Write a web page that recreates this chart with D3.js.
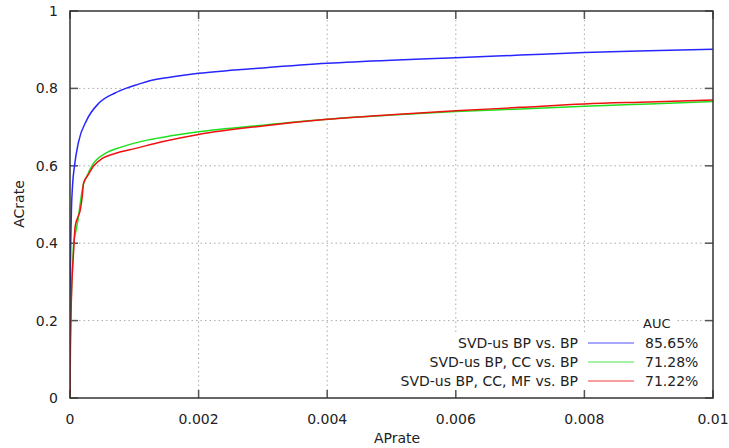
<!DOCTYPE html>
<html>
<head>
<meta charset="utf-8">
<script src="https://cdn.jsdelivr.net/npm/d3@7"></script>
<style>
  body { margin: 0; background: #fff; }
  text { font-family: "DejaVu Sans", sans-serif; fill: #222; }
</style>
</head>
<body>
<div id="chart"></div>
<script>
//=========Data=========//
var seriesNames = ["SVD-us BP vs. BP", "SVD-us BP, CC vs. BP", "SVD-us BP, CC, MF vs. BP"];
var aucLabels = ["85.65%", "71.28%", "71.22%"];
var seriesColors = ["#2626ff", "#1fe01f", "#f01010"];

var blueX = [0, 0.000005, 0.00002, 0.00004, 0.00007, 0.00013, 0.00026, 0.00045, 0.0007, 0.00087, 0.00107, 0.00124, 0.0016, 0.002, 0.003, 0.004, 0.005, 0.006, 0.007, 0.008, 0.009, 0.01];
var blueY = [0, 0.3, 0.47, 0.55, 0.6, 0.66, 0.718, 0.762, 0.788, 0.8, 0.811, 0.82, 0.83, 0.839, 0.853, 0.865, 0.873, 0.879, 0.886, 0.893, 0.897, 0.901];

var greenX = [0, 0.000005, 0.00002, 0.00004, 0.000057, 0.00009, 0.000124, 0.00016, 0.0002, 0.00026, 0.00034, 0.00055, 0.00081, 0.00122, 0.0016, 0.002, 0.003, 0.004, 0.005, 0.006, 0.007, 0.008, 0.009, 0.01];
var greenY = [0, 0.15, 0.26, 0.34, 0.4, 0.43, 0.46, 0.504, 0.546, 0.572, 0.6, 0.632, 0.649, 0.667, 0.678, 0.688, 0.705, 0.72, 0.731, 0.74, 0.747, 0.754, 0.76, 0.766];

var redX = [0, 0.000005, 0.00002, 0.000055, 0.00008, 0.000124, 0.00016, 0.00019, 0.00021, 0.00028, 0.00037, 0.0005, 0.0007, 0.00102, 0.00143, 0.002, 0.003, 0.004, 0.005, 0.006, 0.007, 0.008, 0.009, 0.01];
var redY = [0, 0.1, 0.245, 0.375, 0.443, 0.468, 0.486, 0.52, 0.555, 0.576, 0.6, 0.619, 0.632, 0.645, 0.662, 0.681, 0.703, 0.72, 0.732, 0.742, 0.751, 0.76, 0.765, 0.77];

var xTicks = [0, 0.002, 0.004, 0.006, 0.008, 0.01];
var xTickLabels = ["0", "0.002", "0.004", "0.006", "0.008", "0.01"];
var yTicks = [0, 0.2, 0.4, 0.6, 0.8, 1];
var yTickLabels = ["0", "0.2", "0.4", "0.6", "0.8", "1"];

//=========SVG area=========//
var svgWidth = 729;
var svgHeight = 448;
var margin = { top: 11, right: 16, bottom: 50, left: 70 };
var width = svgWidth - margin.left - margin.right;
var height = svgHeight - margin.top - margin.bottom;

var svg = d3.select("#chart").append("svg")
  .attr("width", svgWidth)
  .attr("height", svgHeight);

var chartGroup = svg.append("g")
  .attr("transform", `translate(${margin.left}, ${margin.top})`);

var xScale = d3.scaleLinear().domain([0, 0.01]).range([0, width]);
var yScale = d3.scaleLinear().domain([0, 1]).range([height, 0]);

// grid
chartGroup.append("g").selectAll("line")
  .data(xTicks.slice(1, -1)).enter().append("line")
  .attr("x1", d => xScale(d)).attr("x2", d => xScale(d))
  .attr("y1", 0).attr("y2", height)
  .attr("stroke", "#aaa").attr("stroke-dasharray", "1.5,3");
chartGroup.append("g").selectAll("line")
  .data(yTicks.slice(1, -1)).enter().append("line")
  .attr("y1", d => yScale(d)).attr("y2", d => yScale(d))
  .attr("x1", 0).attr("x2", width)
  .attr("stroke", "#aaa").attr("stroke-dasharray", "1.5,3");

// legend background (hides grid under the entries)
chartGroup.append("rect")
  .attr("x", 395 - margin.left).attr("y", 333 - margin.top)
  .attr("width", 300).attr("height", 58)
  .attr("fill", "#fff");
chartGroup.append("rect")
  .attr("x", 640 - margin.left).attr("y", 315 - margin.top)
  .attr("width", 36).attr("height", 16)
  .attr("fill", "#fff");

// ticks (inside, mirrored)
var tickLen = 8;
var ticks = chartGroup.append("g").attr("stroke", "#555").attr("stroke-width", 1.5);
xTicks.forEach(function (t) {
  ticks.append("line").attr("x1", xScale(t)).attr("x2", xScale(t)).attr("y1", height).attr("y2", height - tickLen);
  ticks.append("line").attr("x1", xScale(t)).attr("x2", xScale(t)).attr("y1", 0).attr("y2", tickLen);
});
yTicks.forEach(function (t) {
  ticks.append("line").attr("y1", yScale(t)).attr("y2", yScale(t)).attr("x1", 0).attr("x2", tickLen);
  ticks.append("line").attr("y1", yScale(t)).attr("y2", yScale(t)).attr("x1", width).attr("x2", width - tickLen);
});

// tick labels
chartGroup.append("g").selectAll("text")
  .data(xTicks).enter().append("text")
  .attr("x", d => xScale(d)).attr("y", height + 26)
  .attr("text-anchor", "middle").style("font-size", "14px")
  .text((d, i) => xTickLabels[i]);
chartGroup.append("g").selectAll("text")
  .data(yTicks).enter().append("text")
  .attr("x", -12).attr("y", d => yScale(d) + 5)
  .attr("text-anchor", "end").style("font-size", "14px")
  .text((d, i) => yTickLabels[i]);

// curves
chartGroup.append("clipPath").attr("id", "clip")
  .append("rect").attr("width", width).attr("height", height);

var line = d3.line()
  .x(d => xScale(d[0]))
  .y(d => yScale(d[1]))
  .curve(d3.curveMonotoneX);

var series = [
  d3.zip(blueX, blueY),
  d3.zip(greenX, greenY),
  d3.zip(redX, redY)
];

chartGroup.append("g").attr("clip-path", "url(#clip)")
  .selectAll("path").data(series).enter().append("path")
  .attr("d", line)
  .attr("fill", "none")
  .attr("stroke", (d, i) => seriesColors[i])
  .attr("stroke-width", 1.5);

// frame
chartGroup.append("rect")
  .attr("width", width).attr("height", height)
  .attr("fill", "none").attr("stroke", "#333").attr("stroke-width", 1.5);

// legend
var legend = svg.append("g");
legend.append("text")
  .attr("x", 643).attr("y", 328)
  .style("font-size", "13px")
  .text("AUC");
var rows = legend.selectAll("g.row").data(seriesNames).enter().append("g")
  .attr("transform", (d, i) => `translate(0, ${343 + i * 19})`);
rows.append("text")
  .attr("x", 578).attr("y", 5)
  .attr("text-anchor", "end").style("font-size", "14px")
  .text(d => d);
rows.append("line")
  .attr("x1", 588).attr("x2", 634).attr("y1", 0).attr("y2", 0)
  .attr("stroke", (d, i) => seriesColors[i]).attr("stroke-width", 1.2)
  .attr("opacity", 0.8);
rows.append("text")
  .attr("x", 645).attr("y", 5)
  .style("font-size", "14px")
  .text((d, i) => aucLabels[i]);

// axis labels
svg.append("text")
  .attr("x", 397).attr("y", 443)
  .attr("text-anchor", "middle").style("font-size", "14px")
  .text("APrate");
svg.append("text")
  .attr("transform", "translate(24, 204) rotate(-90)")
  .attr("text-anchor", "middle").style("font-size", "14px")
  .text("ACrate");
</script>
</body>
</html>
